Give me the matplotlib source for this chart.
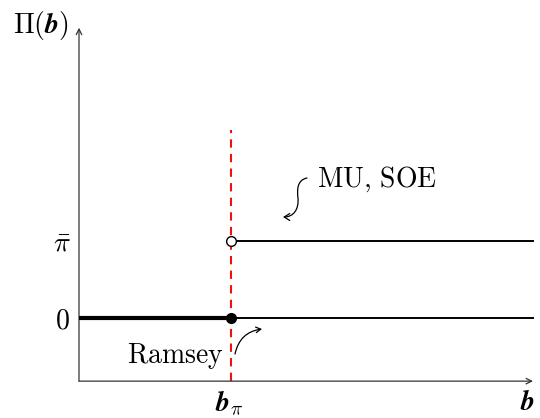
import matplotlib
matplotlib.use("Agg")
import matplotlib.pyplot as plt
from matplotlib.patches import FancyArrowPatch
from matplotlib.path import Path

plt.rcParams['mathtext.fontset'] = 'cm'
plt.rcParams['font.family'] = ['DejaVu Serif']

# data
b_pi = 0.335          # threshold b_pi
zero_level = 0.0      # profit level 0
pibar_level = 1.0     # profit level pi-bar
x_max = 1.0           # end of x axis
y_min, y_top = -0.82, 3.77
dash_top = 2.44
ytick_vals = [zero_level, pibar_level]
ytick_labels = [r'$0$', r'$\bar{\pi}$']

FS = 20

fig = plt.figure(figsize=(5.40, 4.18), dpi=100)
ax = fig.add_axes([0, 0, 1, 1])
ax.set_xlim(-0.174, 1.0154)
ax.set_ylim(-1.2987, 4.1299)
ax.axis('off')

def px(x, y):
    return ((x - 79) / 454.0, (318 - y) / 77.0)

# axes with arrows
ax.annotate('', xy=(x_max, y_min), xytext=(0, y_min),
            arrowprops=dict(arrowstyle='->', lw=0.9, color='#333333', shrinkA=0, shrinkB=0))
ax.annotate('', xy=(0, y_top), xytext=(0, y_min),
            arrowprops=dict(arrowstyle='->', lw=0.9, color='#333333', shrinkA=0, shrinkB=0))

# Ramsey: thick line at 0
ax.plot([0, b_pi], [zero_level, zero_level], color='black', lw=3.0, solid_capstyle='butt', zorder=3)
# thin line at 0 from b_pi
ax.plot([b_pi, x_max], [zero_level, zero_level], color='black', lw=1.4, zorder=3)
# MU, SOE line at pibar
ax.plot([b_pi, x_max], [pibar_level, pibar_level], color='black', lw=1.4, zorder=3)

# dashed red vertical line
ax.plot([b_pi, b_pi], [y_min, dash_top], color='#ee1111', lw=1.5, dashes=(4, 3), zorder=2)

# points
ax.plot([b_pi], [pibar_level], marker='o', ms=7, mfc='white', mec='black', mew=1.0, zorder=5)
ax.plot([b_pi], [zero_level], marker='o', ms=7, mfc='black', mec='black', zorder=5)

# tick labels
ax.text(px(70, 0)[0], px(0, 328)[1], ytick_labels[0], ha='right', va='baseline', fontsize=FS)
ax.text(px(71, 0)[0], px(0, 251)[1], ytick_labels[1], ha='right', va='baseline', fontsize=FS)
ax.text(px(215, 0)[0], px(0, 411)[1], r'$\mathbfit{b}_{\pi}$', ha='left', va='baseline', fontsize=FS)
ax.text(px(535, 0)[0], px(0, 410)[1], r'$\mathbfit{b}$', ha='right', va='baseline', fontsize=FS)
ax.text(px(13, 0)[0], px(0, 33)[1], r'$\Pi(\mathbfit{b})$', ha='left', va='baseline', fontsize=FS)

# labels
ax.text(px(317, 0)[0], px(0, 187)[1], r'$\mathrm{MU,}\,\mathrm{SOE}$', ha='left', va='baseline', fontsize=FS)
ax.text(px(224, 0)[0], px(0, 363)[1], r'$\mathrm{Ramsey}$', ha='right', va='baseline', fontsize=FS)

# curly arrow for MU, SOE (S-shape)
verts = [px(307, 178), px(297, 180), px(297, 190), px(298, 198),
         px(299, 210), px(293, 217), px(283, 217)]
codes = [Path.MOVETO, Path.CURVE4, Path.CURVE4, Path.CURVE4,
         Path.CURVE4, Path.CURVE4, Path.CURVE4]
arr = FancyArrowPatch(path=Path(verts, codes), arrowstyle='->,head_length=4,head_width=2.5',
                      lw=0.9, color='black', zorder=4)
ax.add_patch(arr)

# curved arrow for Ramsey
ax.annotate('', xy=px(262, 329), xytext=px(235, 354),
            arrowprops=dict(arrowstyle='->,head_length=0.35,head_width=0.2', lw=0.9, color='black',
                            connectionstyle='arc3,rad=-0.35', shrinkA=0, shrinkB=0))

fig.savefig('out.png', dpi=100)
